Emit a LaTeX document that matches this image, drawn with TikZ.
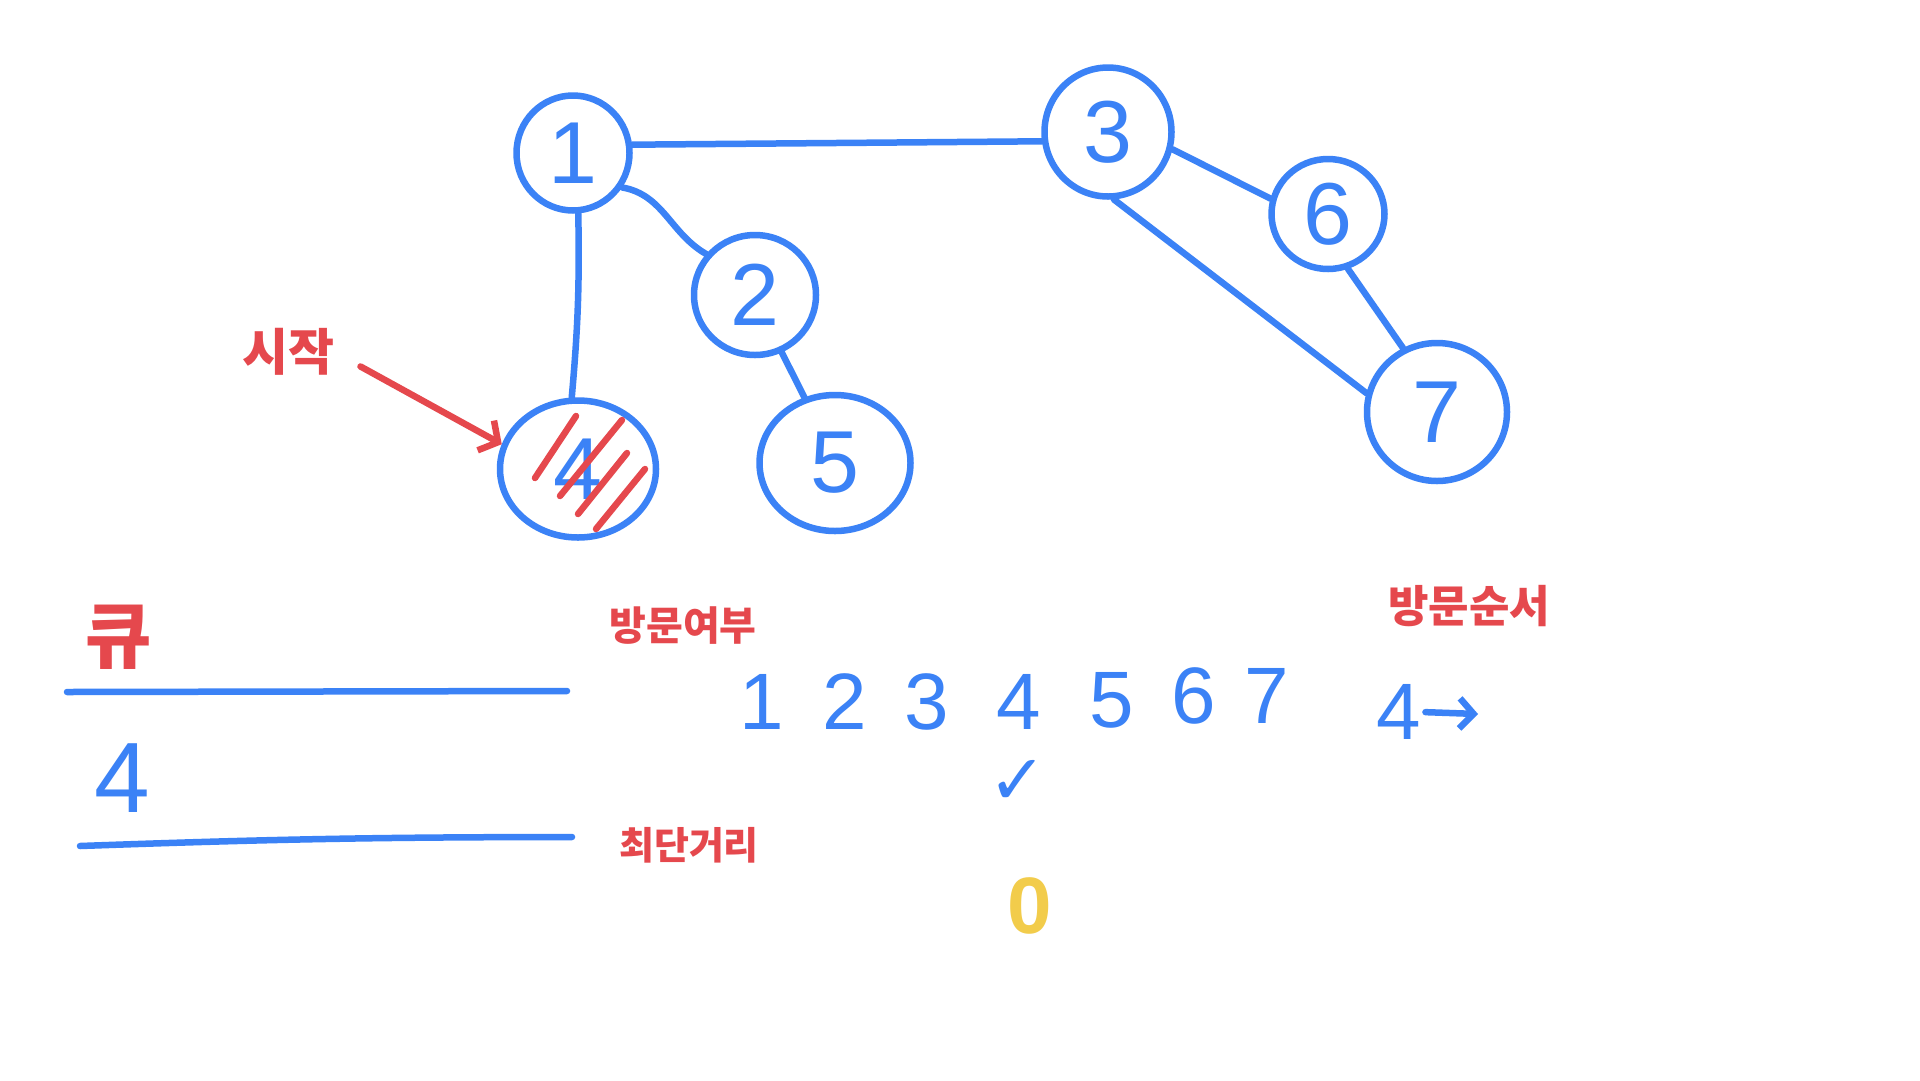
\documentclass[tikz,border=0pt]{standalone}
\usepackage{fontspec}
\setmainfont{Liberation Sans}
\newfontfamily\krfont{Noto Sans CJK KR}
\newfontfamily\symfont{DejaVu Sans}
\usetikzlibrary{shapes.geometric,arrows.meta,calc}
\definecolor{pblue}{HTML}{3B82F6}
\definecolor{pred}{HTML}{E5484D}
\definecolor{pyel}{HTML}{F2CC4B}
\begin{document}
\begin{tikzpicture}[x=1pt,y=-1pt,
  stroke/.style={line width=6.5pt,line cap=round,line join=round},
  vert/.style={ellipse,draw=pblue,stroke,inner sep=0pt,text=pblue,
    font=\fontsize{88}{88}\selectfont},
  edge/.style={draw=pblue,stroke},
  redlbl/.style={text=pred,inner sep=0pt,font=\krfont\bfseries\fontsize{40}{40}\selectfont},
  bluenum/.style={text=pblue,inner sep=0pt,font=\fontsize{80}{80}\selectfont},
  hatch/.style={draw=pred,stroke},
  rarrow/.style={draw=pred,stroke,-{Straight Barb[length=14pt,width=34pt]}},
  barrow/.style={draw=pblue,stroke,-{Straight Barb[length=14pt,width=30pt]}}
]
\useasboundingbox[fill=white] (0,0) rectangle (1920,1080);

% graph vertices
\node[vert,minimum width=113pt,minimum height=115pt] (n1) at (573,153) {1};
\node[vert,minimum width=122pt,minimum height=120pt] (n2) at (755,295) {2};
\node[vert,minimum width=127pt,minimum height=129pt] (n3) at (1108,132) {3};
\node[vert,minimum width=156pt,minimum height=137pt] (n4) at (578,469) {4};
\node[vert,minimum width=151pt,minimum height=136pt] (n5) at (835,463) {5};
\node[vert,minimum width=113pt,minimum height=110pt] (n6) at (1328,214) {6};
\node[vert,minimum width=140pt,minimum height=138pt] (n7) at (1437,412) {7};

% edges
\draw[edge] (n1.8) -- (n3.188);
\draw[edge] (n1.-35) to[out=-10,in=150] (n2.140);
\draw[edge] (n1.-85) to[bend left=3] (n4.95);
\draw[edge] (n2.-65) -- (n5.115);
\draw[edge] (n3.-15) -- (n6.165);
\draw[edge] (n6.-70) -- (n7.118);
\draw[edge] (n3.-85) -- (n7.165);

% red hatching over vertex 4
\draw[hatch] ($(n4)+(-43,9)$) -- ($(n4)+(-2,-53)$);
\draw[hatch] ($(n4)+(-18,27)$) -- ($(n4)+(44,-49)$);
\draw[hatch] ($(n4)+(0,45)$) -- ($(n4)+(49,-16)$);
\draw[hatch] ($(n4)+(18,60)$) -- ($(n4)+(67,0)$);

% start label
\node[redlbl,font=\krfont\bfseries\fontsize{50}{50}\selectfont] (start) at (288,352) {시작};
\draw[rarrow,shorten <=30pt] (start.east) -- (n4.162);

% queue
\node[redlbl,font=\krfont\bfseries\fontsize{72}{72}\selectfont] (queue) at (119,637) {큐};
\coordinate (q1a) at (67,692);
\coordinate (q1b) at (567,691);
\draw[edge] (q1a) -- (q1b);
\node[bluenum,font=\fontsize{100}{100}\selectfont] (qval) at (122,778) {4};
\coordinate (q2a) at (80,846);
\coordinate (q2b) at (572,837);
\draw[edge] (q2a) to[bend left=1] (q2b);

% visited / distance labels
\node[redlbl] (visited) at (683,626) {방문여부};
\node[redlbl,font=\krfont\bfseries\fontsize{38}{38}\selectfont] (dist) at (689,845) {최단거리};
\node[redlbl,font=\krfont\bfseries\fontsize{44}{44}\selectfont] (order) at (1469,606) {방문순서};

% vertex row
\node[bluenum] (c1) at (762,702) {1};
\node[bluenum] (c2) at (845,702) {2};
\node[bluenum] (c3) at (927,702) {3};
\node[bluenum] (c4) at (1019,702) {4};
\node[bluenum] (c5) at (1112,700) {5};
\node[bluenum] (c6) at (1194,696) {6};
\node[bluenum] (c7) at (1267,696) {7};

% check mark under 4
\node[text=pblue,inner sep=0pt,font=\symfont\bfseries\fontsize{70}{70}\selectfont] (chk) at (1018,782) {✓};
% distance value
\node[text=pyel,inner sep=0pt,font=\bfseries\fontsize{80}{80}\selectfont] (d4) at (1030,906) {0};

% visiting order
\node[bluenum] (o1) at (1399,712) {4};
\coordinate (oend) at (1478,714);
\draw[barrow,shorten <=4pt] (o1.east) -- (oend);
\end{tikzpicture}
\end{document}
